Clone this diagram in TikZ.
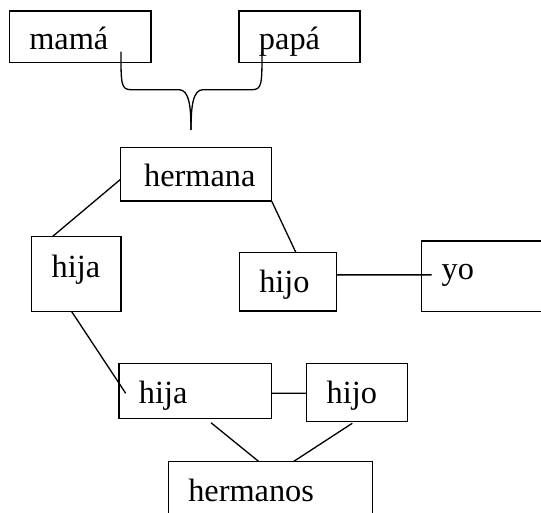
\documentclass[tikz,border=0pt]{standalone}
\usepackage{fontspec}
\setmainfont{Liberation Serif}
\usetikzlibrary{calc}

\begin{document}
\begin{tikzpicture}[
  x=0.02cm, y=-0.02cm,
  famnode/.style={rectangle, draw, line width=0.8pt, anchor=north west, inner xsep=0.4cm, inner ysep=0pt, outer sep=0pt, align=left, font=\fontsize{18.4}{21}\selectfont},
  link/.style={line width=0.75pt}
]
\useasboundingbox (0,0) rectangle (541,513);
\clip (0,0) rectangle (541,513);

\node[famnode, text width=2.034cm, text height=0.78cm, text depth=0.254cm] (mama) at (9.3,11) {mamá};
\node[famnode, text width=1.62cm, text height=0.78cm, text depth=0.254cm] (papa) at (239,11) {papá};
\coordinate (tip) at (191,130);

\node[famnode, inner xsep=0.47cm, text width=2.08cm, text height=0.79cm, text depth=0.286cm] (hermana) at (120.7,147.3) {hermana};

\node[famnode, text width=0.986cm, text height=0.82cm, text depth=0.68cm] (hija1) at (31.7,236.7) {hija};
\node[famnode, text width=1.148cm, text height=0.8cm, text depth=0.366cm] (hijo1) at (239.3,252.7) {hijo};
\node[famnode, text width=2.0cm, text height=0.78cm, text depth=0.634cm] (yo) at (421.7,241) {yo};

\node[famnode, text width=2.254cm, text height=0.8cm, text depth=0.3cm] (hija2) at (119,363.3) {hija};
\node[famnode, text width=1.212cm, text height=0.8cm, text depth=0.368cm] (hijo2) at (306.7,363.3) {hijo};
\node[famnode, text width=3.288cm, text height=0.8cm, text depth=0.8cm] (hermanos) at (168.3,461.7) {hermanos};

\draw[link] ($(mama.south east)+(-30,-11)$) .. controls +(0,32) and +(-10,0) .. ++(10,38) -- ++(48,0) .. controls +(10,0) and +(0,-24) .. (tip);
\draw[link] ($(papa.south west)+(23,-11)$) .. controls +(0,32) and +(10,0) .. ++(-10,38) -- ++(-49,0) .. controls +(-10,0) and +(0,-24) .. (tip);

\draw[link] ($(hermana.west)+(0,5)$) -- ($(hija1.north)+(-24,0)$);
\draw[link] (hermana.south east) -- ($(hijo1.north)+(8,0)$);
\draw[link] ($(hijo1.east)+(0,-7)$) -- ($(yo.west)+(10,-1.5)$);
\draw[link] ($(hija1.south)+(-4.6,0)$) -- ($(hija2.west)+(6.7,2.5)$);
\draw[link] ($(hija2.east)+(0,2.5)$) -- ($(hijo2.west)+(0,0.8)$);
\draw[link] ($(hija2.south)+(15.6,4.4)$) -- ($(hermanos.north)+(-11.5,0)$);
\draw[link] ($(hijo2.south)+(-4.7,1.6)$) -- ($(hermanos.north)+(22.8,0)$);

\end{tikzpicture}
\end{document}
